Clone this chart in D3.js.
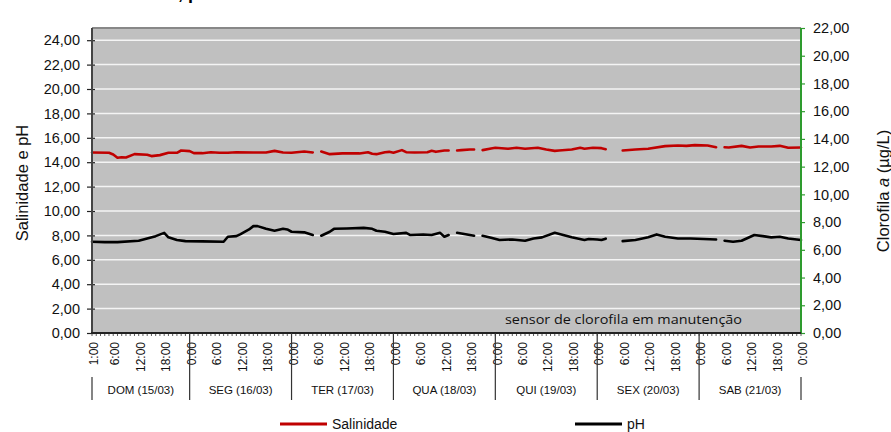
<!DOCTYPE html>
<html>
<head>
<meta charset="utf-8">
<script src="https://cdn.jsdelivr.net/npm/d3@7"></script>
<style>
    body { margin: 0; background: #fff; }
    svg { display: block; font-family: "Liberation Sans", Arial, sans-serif; }
</style>
</head>
<body>
<script>
// days on the category axis
const days = ["DOM (15/03)", "SEG (16/03)", "TER (17/03)", "QUA (18/03)", "QUI (19/03)", "SEX (20/03)", "SAB (21/03)"];
// hour index: 1 = 15/03 1:00 ... 168 = 22/03 0:00
const labelHours = [1, 6, 12, 18, 24, 30, 36, 42, 48, 54, 60, 66, 72, 78, 84, 90, 96, 102, 108, 114, 120,
    126, 132, 138, 144, 150, 156, 162, 168];
const leftTicks = [0, 2, 4, 6, 8, 10, 12, 14, 16, 18, 20, 22, 24];
const rightTicks = [0, 2, 4, 6, 8, 10, 12, 14, 16, 18, 20, 22];

// Salinidade (null = no reading)
const salHours = [1, 5, 6, 7, 8, 9, 11, 14, 15, 17, 19, 21, 22, 24, 25, 27, 29, 31, 33, 35, 39, 42, 44, 46, 48, 51, 53,
    54, 55, 57, 60, 64, 66, 67, 68, 70, 71, 72, 74, 75, 77, 80, 81, 82, 84, 85,
    86, 87, 88, 90, 91,
    92, 93, 95, 96, 99, 101, 103, 106, 108, 110, 111, 114, 116, 117, 119, 121, 122,
    124, 126, 129, 132, 136, 139, 141, 143, 146, 148,
    149, 150, 151, 154, 156, 158, 161, 163, 165, 168];
const salValues = [14.80, 14.77, 14.63, 14.36, 14.41, 14.39, 14.66, 14.61, 14.50, 14.58, 14.77, 14.77, 14.96, 14.91, 14.74, 14.74, 14.82, 14.77, 14.77, 14.82, 14.80, 14.80, 14.93, 14.80, 14.77, 14.88, 14.80,
    null, 14.88, 14.66, 14.72, 14.72, 14.82, 14.69, 14.66, 14.82, 14.85, 14.77, 14.99, 14.82, 14.80, 14.82, 14.93, 14.85, 14.96, 14.96,
    null, 14.96, 14.99, 15.04, 15.04,
    null, 14.99, 15.12, 15.18, 15.10, 15.18, 15.10, 15.18, 15.04, 14.93, 14.96, 15.04, 15.18, 15.10, 15.18, 15.15, 15.06,
    null, 14.96, 15.04, 15.10, 15.32, 15.37, 15.34, 15.40, 15.37, 15.23,
    null, 15.23, 15.21, 15.34, 15.21, 15.29, 15.29, 15.34, 15.18, 15.21];

// pH
const phHours = [1, 4, 7, 12, 14, 16, 18, 19, 21, 23, 27, 32, 33, 35, 36, 38, 39, 40, 42, 44, 46, 47, 48, 51, 53,
    54, 55, 57, 58, 61, 65, 67, 68, 70, 72, 75, 76, 79, 81, 83, 84, 85,
    86, 87, 88, 90, 91,
    92, 93, 95, 97, 100, 103, 105, 107, 110, 112, 114, 117, 118, 120, 121, 122,
    124, 126, 129, 132, 134, 136, 139, 142, 145, 148,
    149, 150, 152, 154, 157, 159, 161, 163, 165, 168];
const phValues = [7.48, 7.45, 7.45, 7.56, 7.75, 7.94, 8.21, 7.84, 7.62, 7.53, 7.51, 7.48, 7.89, 7.94, 8.11, 8.49, 8.76, 8.76, 8.54, 8.38, 8.54, 8.49, 8.30, 8.25, 8.03,
    null, 7.97, 8.30, 8.54, 8.57, 8.62, 8.54, 8.38, 8.30, 8.11, 8.21, 8.03, 8.08, 8.03, 8.21, 7.89, 8.03,
    null, 8.21, 8.16, 8.03, 7.97,
    null, 7.97, 7.81, 7.62, 7.67, 7.56, 7.75, 7.84, 8.21, 8.03, 7.84, 7.62, 7.70, 7.67, 7.62, 7.73,
    null, 7.53, 7.62, 7.84, 8.08, 7.89, 7.75, 7.75, 7.70, 7.67,
    null, 7.56, 7.48, 7.56, 8.03, 7.94, 7.84, 7.89, 7.75, 7.62];

const W = 891, H = 432;
const plot = { left: 92, right: 801, top: 28, bottom: 333 };
const fmt = v => v.toFixed(2).replace(".", ",");

const x = d3.scaleLinear().domain([1, 168]).range([plot.left, plot.right]);
const yL = d3.scaleLinear().domain([0, 25]).range([plot.bottom, plot.top]);
const yR = d3.scaleLinear().domain([0, 22]).range([plot.bottom, plot.top]);

const svg = d3.select("body").append("svg")
    .attr("width", W)
    .attr("height", H);

// cut-off title at the very top
svg.append("text")
    .attr("x", 88)
    .attr("y", -1)
    .attr("font-size", 18)
    .attr("font-weight", "bold")
    .text("Salinidade, pH e clorofila a");

// plot area
svg.append("rect")
    .attr("x", plot.left)
    .attr("y", plot.top)
    .attr("width", plot.right - plot.left)
    .attr("height", plot.bottom - plot.top)
    .attr("fill", "#c0c0c0");

svg.append("g")
    .selectAll("line")
    .data(leftTicks.filter(d => d > 0))
    .join("line")
    .attr("x1", plot.left)
    .attr("x2", plot.right)
    .attr("y1", d => yL(d))
    .attr("y2", d => yL(d))
    .attr("stroke", "#f4f4f4")
    .attr("stroke-width", 1.5);

svg.append("line")
    .attr("x1", plot.left).attr("x2", plot.right)
    .attr("y1", plot.top).attr("y2", plot.top)
    .attr("stroke", "#888").attr("stroke-width", 2);

// annotation
svg.append("text")
    .attr("x", 505)
    .attr("y", 324)
    .attr("font-family", "'Open Sans', 'Noto Sans', sans-serif")
    .attr("font-size", 13.5)
    .attr("textLength", 237)
    .attr("lengthAdjust", "spacingAndGlyphs")
    .attr("fill", "#111")
    .text("sensor de clorofila em manutenção");

// series
const line = d3.line()
    .defined(d => d.v != null)
    .x(d => x(d.h))
    .y(d => yL(d.v));

const series = [
    { name: "Salinidade", color: "#c00000", pts: salHours.map((h, i) => ({ h, v: salValues[i] })) },
    { name: "pH", color: "#000000", pts: phHours.map((h, i) => ({ h, v: phValues[i] })) }
];

svg.append("g")
    .selectAll("path")
    .data(series)
    .join("path")
    .attr("d", d => line(d.pts))
    .attr("fill", "none")
    .attr("stroke", d => d.color)
    .attr("stroke-width", 2.6)
    .attr("stroke-linejoin", "round")
    .attr("stroke-linecap", "round");

// left axis
const yAxisL = d3.axisLeft(yL)
    .tickValues(leftTicks)
    .tickFormat(fmt)
    .tickSize(5)
    .tickPadding(7);
const gL = svg.append("g")
    .attr("transform", "translate(" + plot.left + ",0)")
    .call(yAxisL);
gL.select(".domain").remove();
gL.selectAll(".tick line").attr("x1", 3).attr("stroke", "#222").attr("stroke-width", 1.2);
gL.selectAll(".tick text").attr("font-size", 14.5).attr("fill", "#111").attr("font-family", null);
svg.append("line")
    .attr("x1", plot.left).attr("x2", plot.left)
    .attr("y1", plot.top).attr("y2", plot.bottom)
    .attr("stroke", "#444").attr("stroke-width", 2);

// right axis
const yAxisR = d3.axisRight(yR)
    .tickValues(rightTicks)
    .tickFormat(fmt)
    .tickSize(4)
    .tickPadding(8);
const gR = svg.append("g")
    .attr("transform", "translate(" + plot.right + ",0)")
    .call(yAxisR);
gR.select(".domain").remove();
gR.selectAll(".tick line").attr("stroke", "#2e9b2e").attr("stroke-width", 1.2);
gR.selectAll(".tick text").attr("font-size", 14.5).attr("fill", "#111").attr("font-family", null);
svg.append("line")
    .attr("x1", plot.right).attr("x2", plot.right)
    .attr("y1", plot.top).attr("y2", plot.bottom)
    .attr("stroke", "#2e9b2e").attr("stroke-width", 2);

// x axis: hourly ticks, hour labels, day groups
svg.append("g")
    .selectAll("line")
    .data(d3.range(1, 169))
    .join("line")
    .attr("x1", d => x(d)).attr("x2", d => x(d))
    .attr("y1", plot.bottom).attr("y2", plot.bottom + 3)
    .attr("stroke", "#333").attr("stroke-width", 0.8);

svg.append("line")
    .attr("x1", plot.left - 1).attr("x2", plot.right)
    .attr("y1", plot.bottom).attr("y2", plot.bottom)
    .attr("stroke", "#222").attr("stroke-width", 2);

svg.append("g")
    .selectAll("text")
    .data(labelHours)
    .join("text")
    .attr("transform", d => "translate(" + (x(d) + 2) + ",342) rotate(-90)")
    .attr("text-anchor", "end")
    .attr("dy", "0.35em")
    .attr("font-size", 12)
    .attr("fill", "#111")
    .text(d => d === 1 ? "1:00" : (d % 24) + ":00");

const bounds = d3.range(0, 8).map(i => i === 0 ? 1 : i * 24);
svg.append("g")
    .selectAll("line")
    .data(bounds)
    .join("line")
    .attr("x1", d => x(d)).attr("x2", d => x(d))
    .attr("y1", (d, i) => i === 0 || i === 7 ? 377 : plot.bottom)
    .attr("y2", 400)
    .attr("stroke", "#333")
    .attr("stroke-width", 1.2);

svg.append("g")
    .selectAll("text")
    .data(days)
    .join("text")
    .attr("x", (d, i) => x((bounds[i] + bounds[i + 1]) / 2))
    .attr("y", 394)
    .attr("text-anchor", "middle")
    .attr("font-size", 11.5)
    .attr("fill", "#111")
    .text(d => d);

// axis titles
svg.append("text")
    .attr("transform", "translate(28,183) rotate(-90)")
    .attr("text-anchor", "middle")
    .attr("font-size", 16.5)
    .attr("fill", "#111")
    .text("Salinidade e pH");

const rt = svg.append("text")
    .attr("transform", "translate(889,191) rotate(-90)")
    .attr("text-anchor", "middle")
    .attr("font-size", 16.5)
    .attr("fill", "#111");
rt.append("tspan").text("Clorofila ");
rt.append("tspan").attr("font-style", "italic").text("a");
rt.append("tspan").text(" (µg/L)");

// legend
const legend = svg.append("g")
    .selectAll("g")
    .data(series)
    .join("g")
    .attr("transform", (d, i) => "translate(" + [280, 575][i] + ",424)");
legend.append("line")
    .attr("x1", 0).attr("x2", 47)
    .attr("stroke", d => d.color)
    .attr("stroke-width", 3);
legend.append("text")
    .attr("x", 52)
    .attr("dy", "0.35em")
    .attr("font-size", 14)
    .attr("fill", "#111")
    .text(d => d.name);
</script>
</body>
</html>
